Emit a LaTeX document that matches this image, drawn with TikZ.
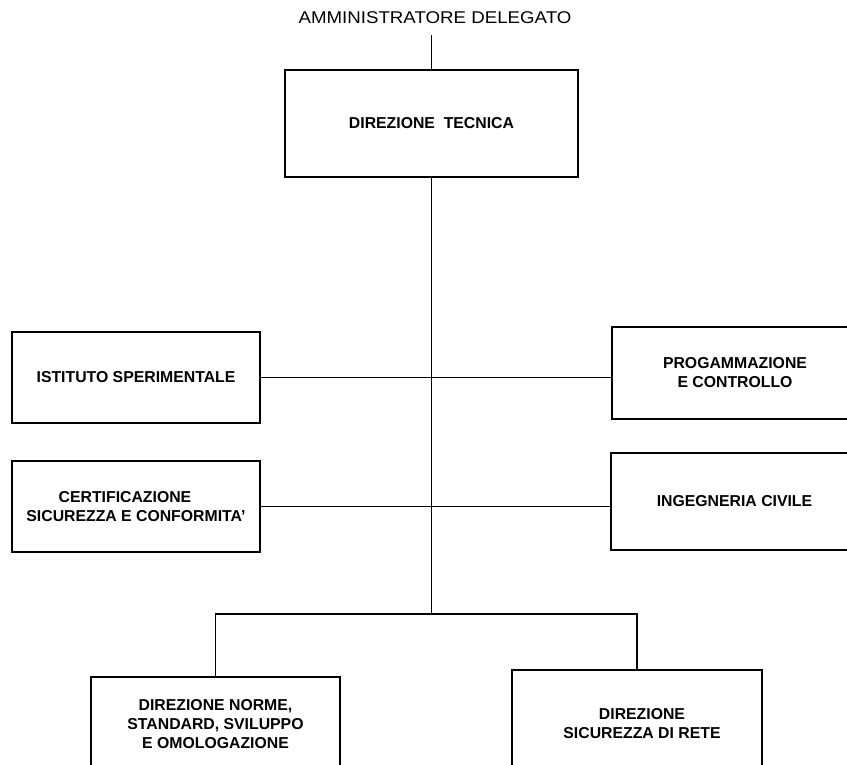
\documentclass[tikz,border=0pt]{standalone}
\usepackage{fontspec}
\setmainfont{Liberation Sans}
\newfontfamily\titlefont[FakeStretch=1.1]{Liberation Sans}
\begin{document}
\begin{tikzpicture}[x=1pt,y=-1pt,
  box/.style={draw, line width=2.5pt, inner sep=0pt, align=center,
    font=\fontsize{15.8}{19}\selectfont\bfseries},
  link/.style={line width=1.8pt}]
\clip (0,0) rectangle (847,764);
\node[inner sep=0pt, font=\titlefont\fontsize{17}{19}\selectfont] (title) at (435,18) {AMMINISTRATORE DELEGATO};
\node[box, minimum width=293pt, minimum height=107pt] (dt) at (431.5,123.5) {DIREZIONE\ \ TECNICA};
\node[box, minimum width=248pt, minimum height=91pt] (ist) at (136,377.5) {ISTITUTO SPERIMENTALE};
\node[box, minimum width=246pt, minimum height=92pt] (prog) at (735,373) {PROGAMMAZIONE\\E CONTROLLO};
\node[box, minimum width=248pt, minimum height=91pt] (cert) at (136,506.5) {CERTIFICAZIONE\hspace*{22pt}\\SICUREZZA E CONFORMITA'};
\node[box, minimum width=247pt, minimum height=97pt] (ing) at (734.5,501.5) {INGEGNERIA CIVILE};
\node[box, minimum width=249pt, minimum height=94pt] (dns) at (215.5,724) {DIREZIONE NORME,\\STANDARD, SVILUPPO\\E OMOLOGAZIONE};
\node[box, minimum width=250pt, minimum height=107pt] (dsr) at (637,723.5) {\hspace*{10pt}DIREZIONE\\\hspace*{10pt}SICUREZZA DI RETE};
\coordinate (ttop) at (431.5,35);
\coordinate (hub) at (431.5,614);
\draw[link] (ttop) -- (dt.north);
\draw[link] (dt.south) -- (hub);
\draw[link] (ist.east) -- (ist.east -| prog.west);
\draw[link] (cert.east) -- (cert.east -| ing.west);
\draw[link] (dns.north) |- (hub) -| (dsr.north);
\end{tikzpicture}
\end{document}
